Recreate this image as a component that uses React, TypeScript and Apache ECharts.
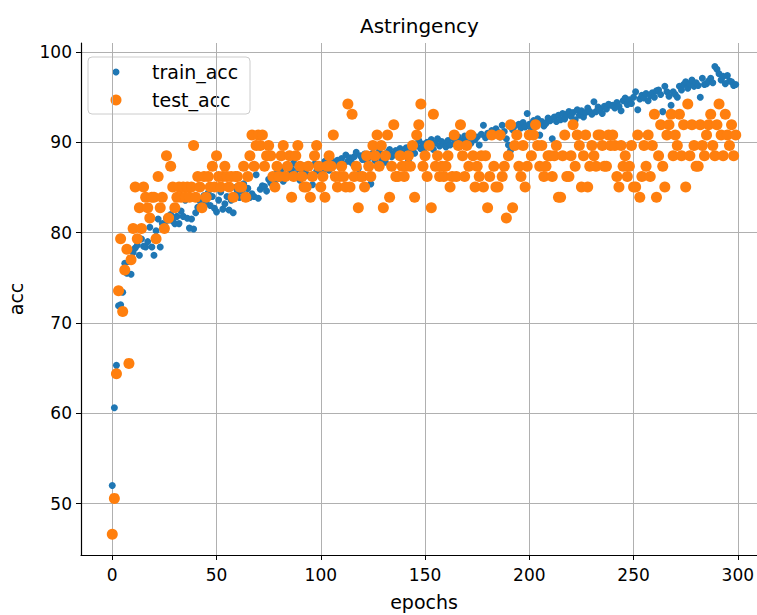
import React, { useEffect, useRef } from "react";
import * as echarts from "echarts";

const title = "Astringency";
const xTicks = [0, 50, 100, 150, 200, 250, 300];
const yTicks = [50, 60, 70, 80, 90, 100];

const trainAcc = [
  52.0, 60.6, 65.3, 71.9, 72.0, 73.4, 76.6, 75.5, 76.8, 75.4,
  77.8, 78.3, 78.6, 77.5, 79.3, 78.5, 78.4, 79.0, 80.6, 78.4,
  77.5, 80.2, 81.5, 78.4, 81.0, 80.9, 81.6, 81.4, 82.0, 81.3,
  81.0, 81.8, 81.0, 82.4, 81.8, 83.6, 81.6, 80.5, 81.5, 80.4,
  82.2, 82.8, 83.5, 82.9, 84.1, 83.2, 84.4, 83.0, 84.0, 82.7,
  82.3, 83.6, 84.5, 82.6, 83.2, 84.0, 82.5, 83.6, 82.2, 85.0,
  84.5, 83.9, 84.6, 85.4, 84.2, 84.9, 83.9, 84.3, 84.0, 86.4,
  83.8, 84.8, 85.2, 85.1, 84.6, 85.9, 85.5, 86.1, 85.4, 86.6,
  86.0, 86.8, 85.7, 87.3, 86.2, 86.5, 87.0, 87.7, 86.4, 87.1,
  85.8, 86.9, 87.4, 86.5, 87.2, 86.2, 85.3, 87.6, 86.8, 87.0,
  87.4, 86.6, 87.9, 87.2, 86.9, 88.1, 87.5, 87.8, 88.0, 87.3,
  88.2, 87.6, 88.6, 87.9, 88.3, 87.7, 88.4, 88.9, 87.1, 88.5,
  88.1, 88.7, 87.9, 88.3, 85.4, 88.8, 88.0, 88.5, 89.0, 88.2,
  88.6, 87.8, 88.9, 89.2, 88.4, 88.7, 89.1, 88.6, 89.3, 88.9,
  88.6, 89.4, 88.0, 89.0, 89.5, 88.8, 89.6, 90.2, 89.3, 89.8,
  89.4, 90.0, 89.7, 90.3, 89.2, 89.9, 90.4, 89.6, 90.1, 89.8,
  89.5, 90.2, 89.7, 90.5, 89.9, 90.1, 90.6, 89.8, 90.2, 90.7,
  90.0, 90.4, 89.9, 90.8, 90.3, 90.6, 89.7, 90.9, 91.9, 90.5,
  91.0, 90.7, 91.3, 90.8, 91.5, 91.1, 90.6, 91.9, 91.2, 90.4,
  89.7, 89.1, 91.4, 91.8, 91.0, 92.0, 91.6, 92.2, 91.7, 93.2,
  92.0, 91.5, 92.4, 91.9, 92.6, 90.8, 92.3, 91.8, 92.1, 92.7,
  92.4, 90.4, 92.8, 92.3, 93.0, 92.5, 93.2, 92.6, 93.1, 93.4,
  92.9, 93.3, 92.5, 93.6, 93.0, 93.5, 92.8, 93.3, 93.8, 93.4,
  93.1, 94.5, 93.4, 93.9, 93.6, 93.2, 94.0, 93.7, 94.2, 94.1,
  94.1, 93.8, 94.4, 94.0, 93.5, 94.6, 94.9, 94.2, 94.7, 94.3,
  95.0, 95.6, 93.6, 94.8, 95.2, 94.9, 95.4, 94.6, 95.2, 95.5,
  95.0, 95.7, 95.8, 95.3, 93.4, 96.2, 95.6, 95.1, 94.1, 95.6,
  95.3, 95.0, 96.2, 95.8, 96.4, 96.7, 96.0, 96.5, 96.9, 96.2,
  96.6, 96.3, 95.0, 97.1, 96.4, 96.5, 96.8, 97.1, 96.6, 98.4,
  98.1, 97.6, 96.9, 97.3, 96.5, 97.4, 96.8, 96.7, 96.3, 96.4,
];

const testAcc = [
  46.6, 50.57, 64.37, 73.56, 79.31, 71.26, 75.86, 78.16, 65.52, 77.01,
  80.46, 85.06, 79.31, 82.76, 80.46, 85.06, 83.91, 82.76, 81.61, 83.91,
  83.91, 79.31, 86.21, 82.76, 83.91, 80.46, 88.51, 81.61, 87.36, 85.06,
  82.76, 83.91, 85.06, 83.91, 85.06, 83.91, 85.06, 83.91, 85.06, 89.66,
  83.91, 86.21, 85.06, 82.76, 86.21, 83.91, 86.21, 85.06, 87.36, 85.06,
  88.51, 86.21, 85.06, 86.21, 87.36, 86.21, 85.06, 86.21, 83.91, 86.21,
  86.21, 85.06, 85.06, 87.36, 83.91, 86.21, 88.51, 90.8, 87.36, 89.66,
  90.8, 89.66, 90.8, 87.36, 88.51, 89.66, 88.51, 86.21, 85.06, 87.36,
  86.21, 88.51, 89.66, 86.21, 87.36, 88.51, 83.91, 86.21, 88.51, 89.66,
  87.36, 86.21, 85.06, 85.06, 87.36, 83.91, 86.21, 88.51, 89.66, 87.36,
  85.06, 86.21, 83.91, 87.36, 88.51, 87.36, 90.8, 86.21, 85.06, 86.21,
  87.36, 86.21, 85.06, 94.25, 85.06, 93.1, 86.21, 87.36, 82.76, 86.21,
  86.21, 85.06, 88.51, 87.36, 86.21, 89.66, 88.51, 90.8, 87.36, 89.66,
  82.76, 88.51, 90.8, 83.91, 87.36, 91.95, 86.21, 86.21, 88.51, 87.36,
  86.21, 87.36, 88.51, 87.36, 89.66, 83.91, 90.8, 91.95, 94.25, 87.36,
  88.51, 86.21, 89.66, 82.76, 93.1, 87.36, 88.51, 86.21, 87.36, 86.21,
  87.36, 88.51, 85.06, 86.21, 90.8, 86.21, 89.66, 91.95, 88.51, 86.21,
  89.66, 87.36, 90.8, 88.51, 85.06, 87.36, 86.21, 88.51, 85.06, 88.51,
  82.76, 86.21, 90.8, 87.36, 85.06, 85.06, 90.8, 86.21, 87.36, 81.61,
  88.51, 91.95, 82.76, 89.66, 90.8, 87.36, 86.21, 89.66, 85.06, 87.36,
  90.8, 88.51, 90.8, 91.95, 89.66, 87.36, 89.66, 86.21, 87.36, 88.51,
  88.51, 86.21, 88.51, 89.66, 83.91, 83.91, 88.51, 90.8, 86.21, 86.21,
  88.51, 91.95, 87.36, 90.8, 89.66, 85.06, 88.51, 90.8, 85.06, 87.36,
  89.66, 88.51, 87.36, 90.8, 90.8, 89.66, 87.36, 87.36, 90.8, 89.66,
  90.8, 89.66, 86.21, 85.06, 89.66, 87.36, 88.51, 86.21, 87.36, 89.66,
  85.06, 85.06, 90.8, 83.91, 86.21, 89.66, 87.36, 90.8, 86.21, 89.66,
  93.1, 83.91, 88.51, 91.95, 87.36, 85.06, 90.8, 91.95, 93.1, 88.51,
  90.8, 89.66, 93.1, 88.51, 91.95, 85.06, 94.25, 88.51, 91.95, 89.66,
  87.36, 87.36, 91.95, 89.66, 88.51, 90.8, 91.95, 93.1, 89.66, 88.51,
  91.95, 94.25, 90.8, 88.51, 93.1, 90.8, 89.66, 91.95, 88.51, 90.8,
];

const FONT = "DejaVu Sans";

export default function App() {
  const ref = useRef<HTMLDivElement>(null);
  useEffect(() => {
    if (!ref.current) return;
    const chart = echarts.init(ref.current, undefined, { renderer: "svg" });
    const trainData = trainAcc.map((v, i) => [i, v]);
    const testData = testAcc.map((v, i) => [i, v]);
    chart.setOption({
      animation: false,
      backgroundColor: "#ffffff",
      title: {
        text: title,
        left: 355,
        top: 11,
        textStyle: { fontFamily: FONT, fontSize: 20, fontWeight: "normal", color: "#000" },
      },
      grid: { left: 81, top: 43, width: 686, height: 512, outerBoundsMode: "none" },
      xAxis: {
        type: "value",
        min: -15,
        max: 314,
        name: "epochs",
        nameLocation: "middle",
        nameGap: 37,
        nameTextStyle: { fontFamily: FONT, fontSize: 19, color: "#000" },
        axisLine: { show: true, onZero: false, lineStyle: { color: "#000", width: 1.2 } },
        axisTick: { show: true, length: 5, lineStyle: { color: "#000" }, customValues: xTicks },
        axisLabel: { customValues: xTicks, fontFamily: FONT, fontSize: 17, color: "#000", margin: 11 },
        splitLine: { show: true, lineStyle: { color: "#b0b0b0", width: 1 } },
      },
      yAxis: {
        type: "value",
        min: 44.3,
        max: 101,
        name: "acc",
        nameLocation: "middle",
        nameRotate: 90,
        nameGap: 56,
        nameTextStyle: { fontFamily: FONT, fontSize: 19, color: "#000" },
        axisLine: { show: true, onZero: false, lineStyle: { color: "#000", width: 1.2 } },
        axisTick: { show: true, length: 5, lineStyle: { color: "#000" }, customValues: yTicks },
        axisLabel: { customValues: yTicks, fontFamily: FONT, fontSize: 17, color: "#000", margin: 9 },
        splitLine: { show: true, lineStyle: { color: "#b0b0b0", width: 1 } },
      },
      series: [
        {
          name: "train_acc",
          type: "scatter",
          data: trainData,
          symbolSize: 7,
          itemStyle: { color: "#1f77b4", opacity: 1 },
        },
        {
          name: "test_acc",
          type: "scatter",
          data: testData,
          symbolSize: 11,
          itemStyle: { color: "#ff7f0e", opacity: 1 },
        },
      ],
      graphic: [
        {
          type: "group",
          z: 100,
          children: [
            {
              type: "rect",
              shape: { x: 88, y: 57, width: 162, height: 57, r: 4 },
              style: { fill: "rgba(255,255,255,0.8)", stroke: "#cccccc", lineWidth: 1 },
            },
            { type: "circle", shape: { cx: 116, cy: 72, r: 3.5 }, style: { fill: "#1f77b4" } },
            {
              type: "text",
              x: 152,
              y: 72,
              style: { text: "train_acc", font: `19px '${FONT}'`, fill: "#000", verticalAlign: "middle" },
            },
            { type: "circle", shape: { cx: 116, cy: 100, r: 5.5 }, style: { fill: "#ff7f0e" } },
            {
              type: "text",
              x: 152,
              y: 100,
              style: { text: "test_acc", font: `19px '${FONT}'`, fill: "#000", verticalAlign: "middle" },
            },
          ],
        },
      ],
    });
    return () => chart.dispose();
  }, []);
  return (
    <div
      ref={ref}
      style={{ position: "fixed", left: 0, top: 0, width: 757, height: 615 }}
    />
  );
}
